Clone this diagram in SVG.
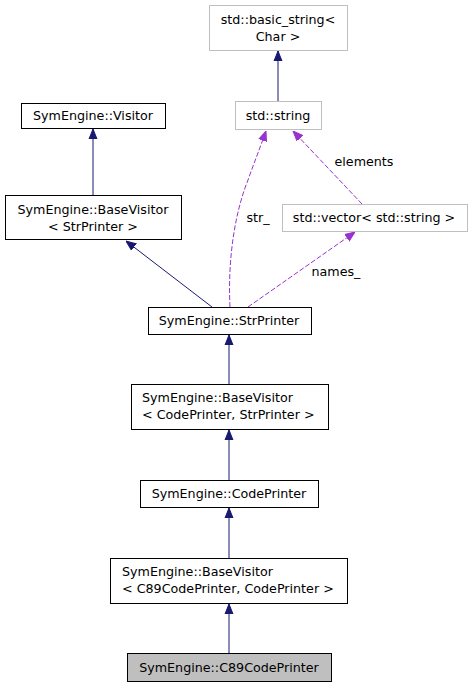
<svg xmlns="http://www.w3.org/2000/svg" width="473" height="687" viewBox="0 0 473 687">
<defs>
<style>
text{font-family:"DejaVu Sans",sans-serif;font-size:12.7px;fill:#000}
.n{fill:#fff;stroke:#000;stroke-width:1}
.g{fill:#fff;stroke:#bfbfbf;stroke-width:1}
.h{fill:#bfbfbf;stroke:#000;stroke-width:1}
.e{fill:none;stroke:#191970;stroke-width:1}
.d{fill:none;stroke:#9a32cd;stroke-width:1;stroke-dasharray:5,2}
.m{text-anchor:middle}
</style>
<marker id="a" viewBox="0 0 10 10" refX="10" refY="5" markerWidth="10" markerHeight="10" markerUnits="userSpaceOnUse" orient="auto"><path d="M0,1 L10,5 L0,9 Z" fill="#191970" stroke="#191970"/></marker>
<marker id="p" viewBox="0 0 10 10" refX="10" refY="5" markerWidth="10" markerHeight="10" markerUnits="userSpaceOnUse" orient="auto"><path d="M0,1 L10,5 L0,9 Z" fill="#9a32cd" stroke="#9a32cd"/></marker>
</defs>
<g id="edges">
<path class="e" d="M229,653 L229,604" marker-end="url(#a)"/>
<path class="e" d="M229,558 L229,508" marker-end="url(#a)"/>
<path class="e" d="M229,480 L229,430" marker-end="url(#a)"/>
<path class="e" d="M229,384 L229,335" marker-end="url(#a)"/>
<path class="e" d="M212,307 L126,241" marker-end="url(#a)"/>
<path class="e" d="M93,195 L93,129" marker-end="url(#a)"/>
<path class="e" d="M278,101 L278,51" marker-end="url(#a)"/>
<path class="d" d="M230,307 C228,270 232,220 248,180 C254,163 260,148 266,131" marker-end="url(#p)"/>
<path class="d" d="M248,307 L355,232" marker-end="url(#p)"/>
<path class="d" d="M362,204 L293,131" marker-end="url(#p)"/>
<text x="258" y="222" class="m">str_</text>
<text x="336" y="276" class="m">names_</text>
<text x="364" y="166" class="m">elements</text>
</g>
<g id="basic_string"><rect class="g" x="209.5" y="5.5" width="138" height="45"/><text x="278" y="24" class="m">std::basic_string&lt;</text><text x="278" y="41" class="m">Char &gt;</text></g>
<g id="string"><rect class="g" x="235.5" y="101.5" width="86" height="28"/><text x="278" y="120" class="m">std::string</text></g>
<g id="visitor"><rect class="n" x="21.5" y="103.5" width="144" height="25"/><text x="93" y="120" class="m">SymEngine::Visitor</text></g>
<g id="bv_str"><rect class="n" x="5.5" y="195.5" width="176" height="44"/><text x="93" y="214" class="m">SymEngine::BaseVisitor</text><text x="93" y="231" class="m">&lt; StrPrinter &gt;</text></g>
<g id="vector"><rect class="g" x="282.5" y="204.5" width="185" height="27"/><text x="374" y="222" class="m">std::vector&lt; std::string &gt;</text></g>
<g id="strprinter"><rect class="n" x="148.5" y="307.5" width="163" height="27"/><text x="229" y="325" class="m">SymEngine::StrPrinter</text></g>
<g id="bv_code"><rect class="n" x="131.5" y="384.5" width="197" height="45"/><text x="142" y="402">SymEngine::BaseVisitor</text><text x="142" y="419">&lt; CodePrinter, StrPrinter &gt;</text></g>
<g id="codeprinter"><rect class="n" x="140.5" y="480.5" width="178" height="27"/><text x="229" y="498" class="m">SymEngine::CodePrinter</text></g>
<g id="bv_c89"><rect class="n" x="110.5" y="558.5" width="237" height="45"/><text x="122" y="576">SymEngine::BaseVisitor</text><text x="122" y="593">&lt; C89CodePrinter, CodePrinter &gt;</text></g>
<g id="c89"><rect class="h" x="127.5" y="653.5" width="204" height="28"/><text x="229" y="672" class="m">SymEngine::C89CodePrinter</text></g>
</svg>
